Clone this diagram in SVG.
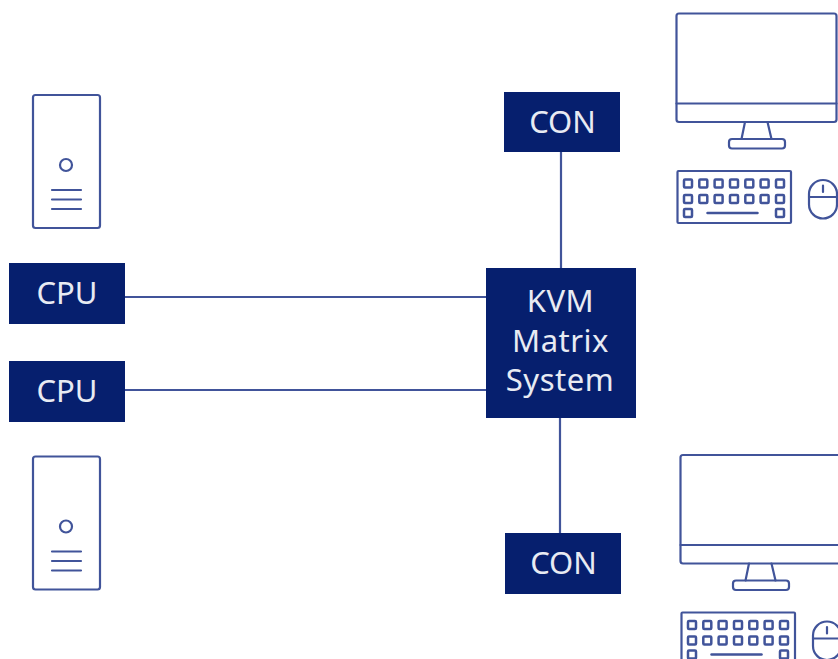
<svg xmlns="http://www.w3.org/2000/svg" xmlns:xlink="http://www.w3.org/1999/xlink" width="838" height="659" viewBox="0 0 838 659">
<style>
.box{fill:#061f6e}
.lbl{fill:#e8ebf3;font-family:"Noto Sans","Open Sans",sans-serif;font-size:31px;text-anchor:middle}
.wide{letter-spacing:.5px}
.ln{fill:none;stroke:#41549a;stroke-width:2.200;stroke-linecap:round;stroke-linejoin:round}
#keys{stroke-width:2.500}
</style>
<defs>
<g id="tower" class="ln">
<rect x="33" y="95" width="67" height="133" rx="2.500"/>
<circle cx="66" cy="165" r="6"/>
<path d="M52 190H81M52 199.500H81M52 209H81"/>
</g>
<g id="station" class="ln">
<rect x="676.500" y="13.500" width="160" height="108.500" rx="2.500"/>
<path d="M676.500 103.500H836.500M745 122L741.500 139M767.500 122L771.500 139"/>
<rect x="729" y="139" width="56" height="9.500" rx="3"/>
<rect x="677.500" y="171" width="113.500" height="52" rx="1"/>
<g id="keys">
<rect x="684" y="179.500" width="8" height="8" rx="1"/><rect x="699.300" y="179.500" width="8" height="8" rx="1"/><rect x="714.600" y="179.500" width="8" height="8" rx="1"/><rect x="730" y="179.500" width="8" height="8" rx="1"/><rect x="745.300" y="179.500" width="8" height="8" rx="1"/><rect x="760.600" y="179.500" width="8" height="8" rx="1"/><rect x="776" y="179.500" width="8" height="8" rx="1"/>
<rect x="684" y="195" width="8" height="8" rx="1"/><rect x="699.300" y="195" width="8" height="8" rx="1"/><rect x="714.600" y="195" width="8" height="8" rx="1"/><rect x="730" y="195" width="8" height="8" rx="1"/><rect x="745.300" y="195" width="8" height="8" rx="1"/><rect x="760.600" y="195" width="8" height="8" rx="1"/><rect x="776" y="195" width="8" height="8" rx="1"/>
<rect x="684" y="209" width="8" height="8" rx="1"/><rect x="776" y="209" width="8" height="8" rx="1"/>
<path d="M707.500 213H757.500"/>
</g>
<rect x="809" y="180" width="28" height="38.500" rx="14"/>
<path d="M809 197H837M823 185.500V192"/>
</g>
</defs>
<g id="connectors" class="ln">
<path d="M125 297H486M125 390H486M561 152V268M560 418V533" stroke-linecap="butt"/>
</g>
<g id="tower-top"><use href="#tower"/></g>
<g id="tower-bottom"><use href="#tower" y="361.500"/></g>
<g id="station-top"><use href="#station"/></g>
<g id="station-bottom"><use href="#station" x="4" y="441.500"/></g>
<g id="cpu-top"><rect class="box" x="9" y="263" width="116" height="61"/><text class="lbl" x="67" y="304">CPU</text></g>
<g id="cpu-bottom"><rect class="box" x="9" y="361" width="116" height="61"/><text class="lbl" x="67" y="402">CPU</text></g>
<g id="con-top"><rect class="box" x="504" y="92" width="116" height="60"/><text class="lbl" x="562.500" y="133">CON</text></g>
<g id="con-bottom"><rect class="box" x="505" y="533" width="116" height="61"/><text class="lbl" x="563.500" y="574">CON</text></g>
<g id="kvm"><rect class="box" x="486" y="268" width="150" height="150"/>
<text class="lbl wide" x="560.500" y="312">KVM</text><text class="lbl wide" x="560.500" y="352">Matrix</text><text class="lbl wide" x="560" y="391">System</text></g>
</svg>
